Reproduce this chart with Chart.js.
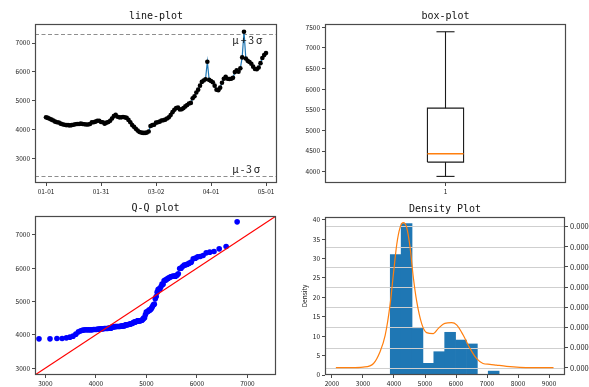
<!DOCTYPE html>
<html><head><meta charset="utf-8">
<script src="https://cdn.jsdelivr.net/npm/chart.js@4.4.1/dist/chart.umd.min.js"></script>
<style>
html,body{margin:0;padding:0;background:#fff;overflow:hidden;width:589px;height:387px;position:relative;}
canvas{position:absolute;}
</style></head>
<body>
<canvas id="c1" width="295" height="200" style="left:0;top:0;width:295px;height:200px"></canvas>
<canvas id="c2" width="294" height="200" style="left:295px;top:0;width:294px;height:200px"></canvas>
<canvas id="c3" width="295" height="192" style="left:0;top:195px;width:295px;height:192px"></canvas>
<canvas id="c4" width="310" height="192" style="left:295px;top:195px;width:310px;height:192px"></canvas>
<script>
// ---------- data ----------
const tickDays = [0, 30, 60, 90, 120];
const tickDates = ['01-01', '01-31', '03-02', '04-01', '05-01'];
const values = [
  4420, 4400, 4370, 4340, 4310, 4270, 4250, 4240, 4200, 4180,
  4160, 4150, 4150, 4140, 4150, 4160, 4180, 4190, 4190, 4200,
  4190, 4180, 4170, 4170, 4190, 4245, 4250, 4270, 4300, 4300,
  4260, 4250, 4200, 4235, 4260, 4300, 4380, 4460, 4510, 4440,
  4420, 4420, 4430, 4420, 4400, 4330, 4250, 4150, 4090, 4020,
  3960, 3910, 3890, 3880, 3880, 3890, 3930, 4120, 4150, 4160,
  4235, 4250, 4270, 4310, 4320, 4340, 4380, 4420, 4500, 4600,
  4680, 4740, 4760, 4690, 4700, 4740, 4800, 4850, 4900, 4920,
  5080, 5150, 5280, 5380, 5520, 5650, 5700, 5740, 6350, 5720,
  5680, 5640, 5520, 5380, 5360, 5450, 5620, 5760, 5830, 5760,
  5750, 5760, 5790, 5990, 6050, 6000, 6120, 6500, 7390, 6460,
  6380, 6340, 6280, 6180, 6100, 6090, 6150, 6300, 6480, 6580,
  6650
];
const sigmaUpper = 7312;
const sigmaLower = 2385;
const lineYTicks = [3000, 4000, 5000, 6000, 7000];

const boxMin = 3885, boxQ1 = 4232, boxMedian = 4436, boxQ3 = 5539, boxMax = 7390;
const boxYTicks = [4000, 4500, 5000, 5500, 6000, 6500, 7000, 7500];

const qqTheoretical = [
  2874, 3092, 3229, 3332, 3416, 3486, 3548, 3604, 3655, 3700,
  3743, 3783, 3821, 3857, 3890, 3922, 3953, 3983, 4011, 4039,
  4066, 4092, 4118, 4142, 4166, 4190, 4212, 4235, 4257, 4278,
  4299, 4320, 4340, 4361, 4380, 4400, 4419, 4438, 4457, 4476,
  4495, 4514, 4532, 4550, 4568, 4586, 4603, 4621, 4638, 4655,
  4673, 4690, 4707, 4725, 4742, 4758, 4775, 4792, 4810, 4827,
  4835,
  4843, 4860, 4878, 4895, 4912, 4928, 4945, 4963, 4980, 4997,
  5015, 5032, 5049, 5067, 5084, 5102, 5120, 5138, 5156, 5175,
  5194, 5213, 5232, 5251, 5270, 5290, 5309, 5330, 5350, 5371,
  5392, 5413, 5435, 5458, 5480, 5504, 5528, 5552, 5578, 5604,
  5631, 5659, 5687, 5717, 5748, 5780, 5813, 5849, 5887, 5927,
  5970, 6015, 6066, 6122, 6184, 6254, 6338, 6441, 6578, 6796
];
const qqLine = [2795, 7565];
const qqTicks = [3000, 4000, 5000, 6000, 7000];

const binEdges = [3880, 4231, 4582, 4933, 5284, 5635, 5986, 6337, 6688, 7039, 7390];
const binCounts = [31, 39, 12, 3, 6, 11, 9, 8, 0, 1];
const kdeX = [2125, 2600, 3000, 3340, 3550, 3715, 3875, 3980, 4090, 4195, 4300, 4410, 4520, 4625, 4730, 4890, 5050, 5270, 5430, 5640, 5860, 6020, 6230, 6450, 6660, 6870, 7090, 7300, 7630, 8060, 8600, 9145];
const kdeY = [0, 0.0000003, 0.000003, 0.000021, 0.000079, 0.00016, 0.000314, 0.000463, 0.000612, 0.000694, 0.000719, 0.000694, 0.000595, 0.000446, 0.000331, 0.00022, 0.000174, 0.000169, 0.000195, 0.00022, 0.000223, 0.000212, 0.000162, 0.000096, 0.000046, 0.000021, 0.000017, 0.000013, 0.000007, 0.000002, 0.0000003, 0];
const histXTicks = [2000, 3000, 4000, 5000, 6000, 7000, 8000, 9000];
const histYTicks = [0, 5, 10, 15, 20, 25, 30, 35, 40];
const kdeTicks = [0, 0.0001, 0.0002, 0.0003, 0.0004, 0.0005, 0.0006, 0.0007];

// ---------- styling helpers ----------
const FRAME = '#4a4a4a';
const TXT = '#1a1a1a';
const TICKFONT = '"Noto Sans CJK SC", "DejaVu Sans", sans-serif';
const TITLEFONT = '"DejaVu Sans Mono", monospace';

function axis(pos, min, max, ticks, size, fmt, extra) {
  const horiz = (pos === 'top' || pos === 'bottom');
  return Object.assign({
    type: 'linear', position: pos, min: min, max: max, offset: false,
    afterBuildTicks: s => { s.ticks = ticks.map(v => ({ value: v })); },
    afterFit: s => { if (horiz) s.height = size; else s.width = size; },
    grid: { display: true, drawOnChartArea: false, drawTicks: true, tickLength: 3, color: FRAME, lineWidth: 1, offset: false },
    border: { display: false },
    ticks: {
      autoSkip: false, maxRotation: 0, minRotation: 0, padding: 2, color: TXT,
      font: { family: TICKFONT, size: 6.5 },
      callback: fmt || (v => String(v))
    }
  }, extra || {});
}

function decor(title) {
  return {
    id: 'decor',
    afterDatasetsDraw(chart) {
      const { ctx, chartArea: a } = chart;
      ctx.save();
      ctx.strokeStyle = FRAME; ctx.lineWidth = 1.2;
      const l = Math.round(a.left) + 0.5, t = Math.round(a.top) + 0.5;
      const r = Math.round(a.right) - 0.5, b = Math.round(a.bottom) - 0.5;
      ctx.strokeRect(l, t, r - l, b - t);
      ctx.restore();
    },
    afterDraw(chart) {
      const { ctx, chartArea: a } = chart;
      ctx.save();
      ctx.fillStyle = '#111';
      ctx.font = '10px ' + TITLEFONT;
      ctx.textAlign = 'center';
      ctx.textBaseline = 'alphabetic';
      ctx.fillText(title, (a.left + a.right) / 2, a.top - 5);
      ctx.restore();
    }
  };
}

const base = (pad) => ({
  responsive: false, animation: false, events: [], devicePixelRatio: 1,
  layout: { padding: pad },
  plugins: { legend: { display: false }, tooltip: { enabled: false }, title: { display: false } }
});

// ---------- 1. line plot ----------
const sigmaPlugin = {
  id: 'sigma',
  beforeDatasetsDraw(chart) {
    const { ctx, chartArea: a, scales } = chart;
    ctx.save();
    ctx.strokeStyle = '#8e8e8e'; ctx.lineWidth = 1; ctx.setLineDash([4, 2.5]);
    [sigmaUpper, sigmaLower].forEach(v => {
      const y = Math.round(scales.y.getPixelForValue(v)) + 0.5;
      ctx.beginPath(); ctx.moveTo(a.left, y); ctx.lineTo(a.right, y); ctx.stroke();
    });
    ctx.restore();
  },
  afterDatasetsDraw(chart) {
    const { ctx, scales } = chart;
    ctx.save();
    ctx.fillStyle = TXT;
    ctx.font = '10.5px "Noto Sans CJK SC", sans-serif';
    try { ctx.letterSpacing = '1.8px'; } catch (e) {}
    ctx.textAlign = 'left';
    const x = scales.x.getPixelForValue(101.6);
    ctx.textBaseline = 'top';
    ctx.fillText('μ+3σ', x, scales.y.getPixelForValue(sigmaUpper) + 0.5);
    ctx.textBaseline = 'bottom';
    ctx.fillText('μ-3σ', x, scales.y.getPixelForValue(sigmaLower) - 1.5);
    ctx.restore();
  }
};
new Chart(document.getElementById('c1'), {
  type: 'scatter',
  data: { datasets: [{
    data: values.map((v, i) => ({ x: i, y: v })),
    showLine: true, borderColor: '#1f77b4', borderWidth: 1.2,
    pointRadius: 2.3, pointBackgroundColor: '#000', pointBorderColor: '#000', pointBorderWidth: 0
  }] },
  options: Object.assign(base({ top: 24, right: 18, left: 0, bottom: 0 }), {
    scales: {
      x: axis('bottom', -6, 126, tickDays, 17, (v, i) => tickDates[i]),
      y: axis('left', 2140, 7660, lineYTicks, 35)
    }
  }),
  plugins: [sigmaPlugin, decor('line-plot')]
});

// ---------- 2. box plot ----------
const BW = 0.075, CW = 0.0375;
const seg = (pts, color, w) => ({
  type: 'line', data: pts, showLine: true, borderColor: color, borderWidth: w || 1.1,
  pointRadius: 0, fill: false, tension: 0
});
new Chart(document.getElementById('c2'), {
  type: 'scatter',
  data: { datasets: [
    seg([{ x: 1 - BW, y: boxMedian }, { x: 1 + BW, y: boxMedian }], '#ff7f0e', 1.5),
    seg([{ x: 1 - BW, y: boxQ1 }, { x: 1 + BW, y: boxQ1 }, { x: 1 + BW, y: boxQ3 }, { x: 1 - BW, y: boxQ3 }, { x: 1 - BW, y: boxQ1 }], '#1a1a1a'),
    seg([{ x: 1, y: boxQ3 }, { x: 1, y: boxMax }], '#1a1a1a'),
    seg([{ x: 1, y: boxMin }, { x: 1, y: boxQ1 }], '#1a1a1a'),
    seg([{ x: 1 - CW, y: boxMax }, { x: 1 + CW, y: boxMax }], '#1a1a1a'),
    seg([{ x: 1 - CW, y: boxMin }, { x: 1 + CW, y: boxMin }], '#1a1a1a')
  ] },
  options: Object.assign(base({ top: 24, right: 23, left: 0, bottom: 0 }), {
    scales: {
      x: axis('bottom', 0.5, 1.5, [1], 17),
      y: axis('left', 3725, 7578, boxYTicks, 30)
    }
  }),
  plugins: [decor('box-plot')]
});

// ---------- 3. Q-Q plot ----------
const qqSample = values.slice().sort((a, b) => a - b);
new Chart(document.getElementById('c3'), {
  type: 'scatter',
  data: { datasets: [
    { type: 'line', data: qqLine.map(v => ({ x: v, y: v })), showLine: true, borderColor: '#ff0000', borderWidth: 1.1, pointRadius: 0 },
    { data: qqTheoretical.map((t, i) => ({ x: t, y: qqSample[i] })), pointRadius: 2.8, pointBackgroundColor: '#0000ff', pointBorderColor: '#0000ff', pointBorderWidth: 0 }
  ] },
  options: Object.assign(base({ top: 21, right: 19, left: 0, bottom: 0 }), {
    scales: {
      x: axis('bottom', qqLine[0], qqLine[1], qqTicks, 12),
      y: axis('left', qqLine[0], qqLine[1], qqTicks, 35)
    }
  }),
  plugins: [decor('Q-Q plot')]
});

// ---------- 4. density plot ----------
const binCenters = binCounts.map((c, i) => (binEdges[i] + binEdges[i + 1]) / 2);
const gridPlugin = {
  id: 'kdegrid',
  beforeDatasetDraw(chart, args) {
    if (args.index !== 0) return;
    const { ctx, chartArea: a, scales } = chart;
    ctx.save();
    ctx.strokeStyle = '#cfcfcf'; ctx.lineWidth = 1;
    kdeTicks.forEach(v => {
      const y = Math.round(scales.y2.getPixelForValue(v)) + 0.5;
      ctx.beginPath(); ctx.moveTo(a.left, y); ctx.lineTo(a.right, y); ctx.stroke();
    });
    ctx.restore();
  }
};
const yLeft = axis('left', 0, 40.7, histYTicks, 30);
yLeft.title = { display: true, text: 'Density', color: TXT, font: { family: TICKFONT, size: 6.5 }, padding: { top: 6, bottom: 0 } };
const yRight = axis('right', -0.0000361, 0.000747, kdeTicks, 40, v => v.toFixed(4));
yRight.ticks.font = { family: TICKFONT, size: 7.5 };
new Chart(document.getElementById('c4'), {
  type: 'bar',
  data: { datasets: [
    { type: 'line', data: kdeX.map((x, i) => ({ x: x, y: kdeY[i] })), yAxisID: 'y2', borderColor: '#ff7f0e', borderWidth: 1.2, pointRadius: 0, cubicInterpolationMode: 'monotone', fill: false },
    { type: 'bar', data: binCenters.map((x, i) => ({ x: x, y: binCounts[i] })), yAxisID: 'y', backgroundColor: '#1f77b4', borderWidth: 0, barPercentage: 1, categoryPercentage: 1 }
  ] },
  options: Object.assign(base({ top: 22, right: 0, left: 0, bottom: 0 }), {
    scales: {
      x: axis('bottom', 1775, 9515, histXTicks, 12),
      y: yLeft,
      y2: yRight
    }
  }),
  plugins: [gridPlugin, decor('Density Plot')]
});
</script>
</body></html>
